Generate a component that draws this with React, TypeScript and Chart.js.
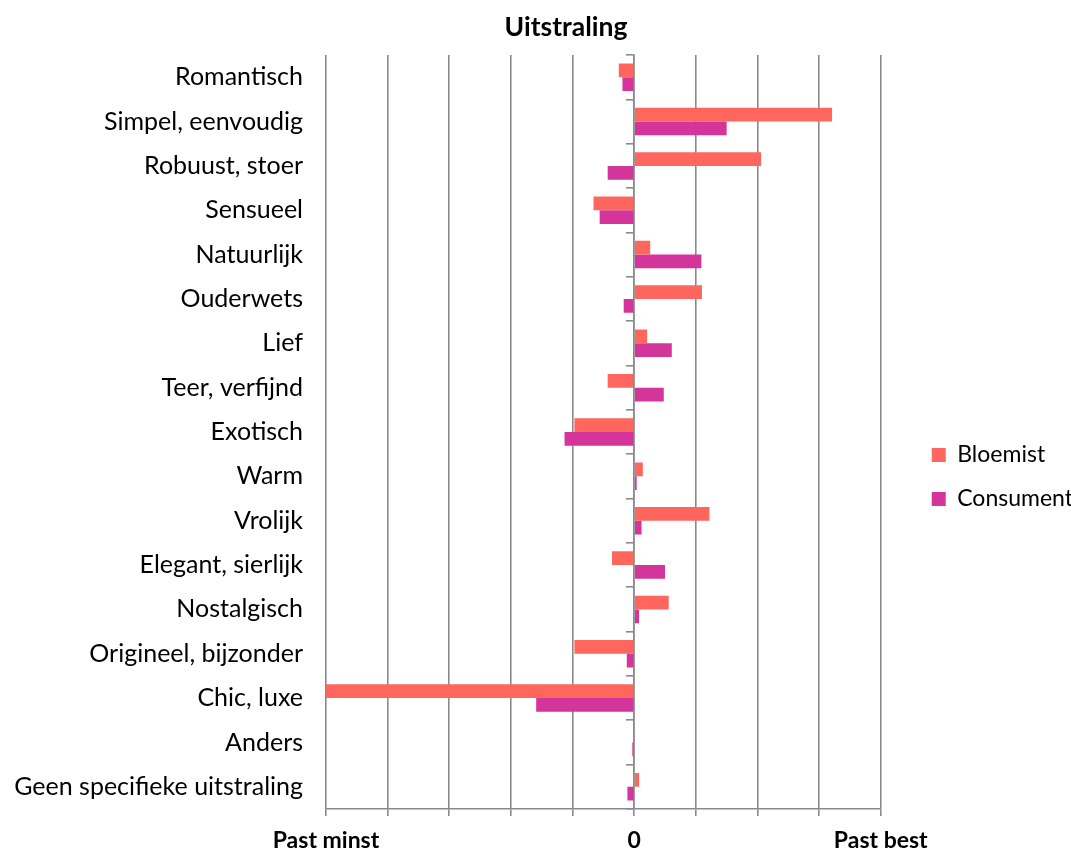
import React, { useEffect, useRef } from "react";
import { Chart, registerables } from "chart.js";

Chart.register(...registerables);

const categories: string[] = [
  "Romantisch",
  "Simpel, eenvoudig",
  "Robuust, stoer",
  "Sensueel",
  "Natuurlijk",
  "Ouderwets",
  "Lief",
  "Teer, verfijnd",
  "Exotisch",
  "Warm",
  "Vrolijk",
  "Elegant, sierlijk",
  "Nostalgisch",
  "Origineel, bijzonder",
  "Chic, luxe",
  "Anders",
  "Geen specifieke uitstraling",
];

const bloemist: number[] = [
  -0.25, 3.21, 2.06, -0.66, 0.26, 1.1, 0.21, -0.43, -0.97, 0.14, 1.22, -0.36, 0.56, -0.97, -5.0, 0, 0.08,
];

const consument: number[] = [
  -0.19, 1.5, -0.43, -0.56, 1.09, -0.17, 0.61, 0.48, -1.13, 0.04, 0.12, 0.5, 0.08, -0.12, -1.59, -0.03, -0.11,
];

const seriesNames: string[] = ["Bloemist", "Consument"];
const seriesColors: string[] = ["#FF675E", "#D3359B"];

const axisMin = -5;
const axisMax = 4;
const tickLabels: Record<number, string> = { [-5]: "Past minst", 0: "0", 4: "Past best" };

const FONT = "Lato, 'Open Sans', sans-serif";
const CANVAS_W = 1116;
const CANVAS_H = 858;

export default function App() {
  const canvasRef = useRef<HTMLCanvasElement | null>(null);

  useEffect(() => {
    if (!canvasRef.current) return;
    const chart = new Chart(canvasRef.current, {
      type: "bar",
      data: {
        labels: categories,
        datasets: [
          {
            label: seriesNames[0],
            data: bloemist,
            backgroundColor: seriesColors[0],
            borderWidth: 0,
            xAxisID: "x",
            yAxisID: "y",
          },
          {
            label: seriesNames[1],
            data: consument,
            backgroundColor: seriesColors[1],
            borderWidth: 0,
            xAxisID: "x",
            yAxisID: "y",
          },
        ],
      },
      options: {
        indexAxis: "y",
        responsive: false,
        animation: false,
        devicePixelRatio: 1,
        layout: { padding: 0 },
        datasets: { bar: { categoryPercentage: 0.62, barPercentage: 1 } },
        plugins: {
          title: {
            display: true,
            text: "Uitstraling",
            color: "#000",
            font: { family: FONT, size: 26.5, weight: "bold" },
            padding: { top: 4, bottom: 11.2 },
          },
          legend: {
            display: true,
            position: "right",
            maxWidth: 400,
            title: { display: true, text: "", padding: { top: 28, bottom: 28 }, font: { family: FONT, size: 20 } },
            labels: {
              color: "#000",
              font: { family: FONT, size: 23 },
              boxWidth: 14,
              boxHeight: 14,
              padding: 21,
            },
          },
          tooltip: { enabled: false },
        },
        scales: {
          x: {
            type: "linear",
            axis: "x",
            position: "bottom",
            min: axisMin,
            max: axisMax,
            ticks: {
              stepSize: 1,
              autoSkip: false,
              maxRotation: 0,
              minRotation: 0,
              padding: 11.2,
              color: "#000",
              font: { family: FONT, size: 23, weight: "bold" },
              callback: (v: any) => (tickLabels[Number(v)] !== undefined ? tickLabels[Number(v)] : ""),
            },
            grid: { color: "#8a8a8a", lineWidth: 1.6, drawTicks: true, tickLength: 7 },
            border: { display: true, color: "#8a8a8a", width: 1.6 },
          },
          y: {
            type: "category",
            axis: "y",
            position: "left",
            grid: { display: false, drawTicks: false },
            border: { display: false },
            ticks: {
              color: "#000",
              padding: 23,
              autoSkip: false,
              font: { family: FONT, size: 25 },
            },
            afterFit: (s: any) => {
              s.width = 318;
            },
          },
          yZero: {
            type: "category",
            axis: "y",
            position: { x: 0 },
            ticks: { display: false },
            grid: {
              display: true,
              drawOnChartArea: false,
              drawTicks: true,
              tickLength: 7,
              color: "#8a8a8a",
              lineWidth: 1.6,
              offset: true,
            },
            border: { display: true, color: "#8a8a8a", width: 1.6 },
          },
          ySpacer: {
            type: "category",
            axis: "y",
            position: "right",
            weight: 0,
            ticks: { display: false },
            grid: { display: false, drawTicks: false },
            border: { display: false },
            afterFit: (s: any) => {
              s.width = 30;
            },
          },
          ySpacerOuter: {
            type: "category",
            axis: "y",
            position: "right",
            weight: 2000,
            ticks: { display: false },
            grid: { display: false, drawTicks: false },
            border: { display: false },
            afterFit: (s: any) => {
              s.width = 41;
            },
          },
        },
      } as any,
    });
    return () => chart.destroy();
  }, []);

  return (
    <div
      style={{
        position: "fixed",
        left: 0,
        top: 0,
        width: 1071,
        height: 854,
        overflow: "hidden",
        background: "#fff",
      }}
    >
      <canvas
        ref={canvasRef}
        width={CANVAS_W}
        height={CANVAS_H}
        style={{ position: "absolute", left: 8, top: 8, width: CANVAS_W, height: CANVAS_H }}
      />
    </div>
  );
}
